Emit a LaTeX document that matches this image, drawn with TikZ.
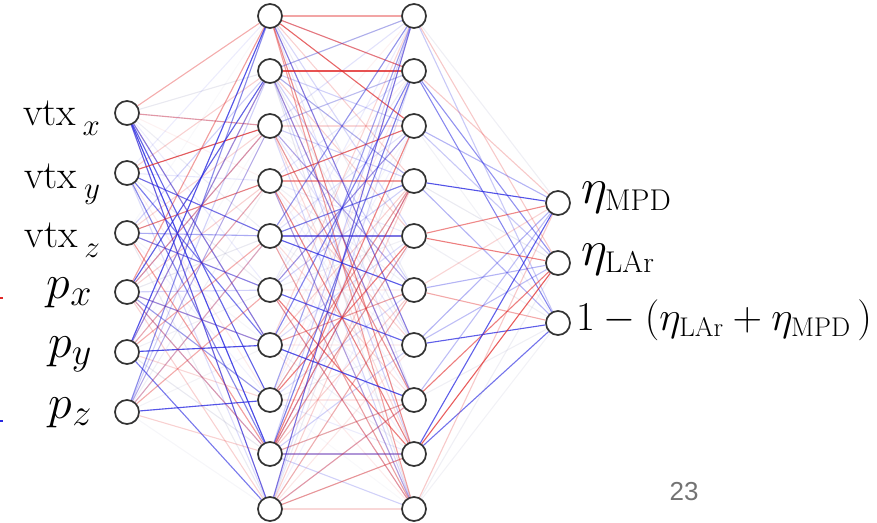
\RequirePackage{fix-cm}
\documentclass[tikz,border=0pt]{standalone}
\usepackage{amsmath}
\usepackage{fontspec}
\newfontfamily\pagefont{Liberation Sans}
\usepackage{tikz}
\usetikzlibrary{positioning}
\DeclareMathSizes{48}{48}{38}{30}
\DeclareMathSizes{50}{50}{30}{24}
\DeclareMathSizes{41}{41}{27}{20}
\DeclareMathSizes{31}{31}{24}{18}
\definecolor{wred}{RGB}{225,40,40}
\definecolor{wblue}{RGB}{40,40,225}
\definecolor{wgray}{RGB}{150,150,185}
\definecolor{ringgray}{RGB}{50,50,50}
\definecolor{pagegray}{RGB}{115,115,115}
\newcommand{\vtxlbl}[1]{vtx\,\raisebox{-10pt}{\fontsize{31}{33}\selectfont$#1$}}
\tikzset{
  neuron/.style={circle,draw=ringgray,fill=white,line width=1.7pt,minimum size=24pt,inner sep=0pt},
  wline/.style={line width=1.1pt},
  vtxlabel/.style={inner sep=0pt,font=\fontsize{40}{44}\selectfont},
  plabel/.style={inner sep=0pt,font=\fontsize{48}{52}\selectfont},
  etalabel/.style={inner sep=0pt,font=\fontsize{50}{54}\selectfont},
  sumlabel/.style={inner sep=0pt,font=\fontsize{41}{44}\selectfont},
  pagenum/.style={inner sep=0pt,font=\pagefont\fontsize{26}{30}\selectfont,text=pagegray}
}

\begin{document}
\begin{tikzpicture}[x=1pt,y=-1pt]
  \useasboundingbox (0,0) rectangle (877,522);
  \foreach \k/\y in {1/113,2/173,3/233,4/292,5/352,6/412}
    \node[neuron] (i\k) at (127,\y) {};
  \foreach \k/\y in {1/16,2/71,3/126,4/181,5/236,6/290,7/345,8/400,9/454,10/509} {
    \node[neuron] (a\k) at (270,\y) {};
    \node[neuron] (b\k) at (414,\y) {};
  }
  \foreach \k/\y in {1/203,2/263,3/323}
    \node[neuron] (o\k) at (558,\y) {};

  % faint weights
  \foreach \s in {1,...,6}
    \foreach \t in {1,...,10} {
      \pgfmathtruncatemacro\w{mod(5*\s+3*\t+\s*\t,7)}
      \pgfmathtruncatemacro\c{mod(\s+2*\t,3)}
      \pgfmathsetmacro\op{0.06+0.025*\w}
      \ifcase\c \def\col{wred}\or \def\col{wblue}\else \def\col{wgray}\fi
      \draw[wline,\col,opacity=\op] (i\s) -- (a\t);
    }
  \foreach \s in {1,...,10}
    \foreach \t in {1,...,10} {
      \pgfmathtruncatemacro\w{mod(3*\s+5*\t+\s*\t,7)}
      \pgfmathtruncatemacro\c{mod(2*\s+\t,3)}
      \pgfmathsetmacro\op{0.06+0.025*\w}
      \ifcase\c \def\col{wred}\or \def\col{wblue}\else \def\col{wgray}\fi
      \draw[wline,\col,opacity=\op] (a\s) -- (b\t);
    }

  % strong weights
  \foreach \s/\t/\col/\op in {
    i1/a1/wred/.30, i1/a3/wred/.40, i1/a7/wblue/.55, i1/a8/wblue/.70, i1/a9/wblue/.80, i1/a10/wblue/.70,
    i2/a3/wred/.75, i2/a5/wblue/.65, i2/a7/wblue/.55, i2/a9/wblue/.50,
    i3/a4/wred/.55, i3/a5/wblue/.30, i3/a6/wblue/.55, i3/a9/wred/.30,
    i4/a1/wred/.30, i4/a2/wblue/.70, i4/a3/wred/.40, i4/a7/wblue/.45, i4/a8/wblue/.40, i4/a9/wred/.35,
    i5/a1/wblue/.75, i5/a2/wblue/.45, i5/a4/wred/.35, i5/a5/wred/.30, i5/a7/wblue/.80, i5/a10/wblue/.60,
    i6/a1/wblue/.50, i6/a3/wblue/.35, i6/a5/wred/.30, i6/a6/wred/.35, i6/a8/wblue/.75,
    a1/b1/wred/.35, a1/b2/wred/.60, a1/b3/wred/.70, a1/b7/wblue/.55, a1/b9/wred/.50, a1/b10/wred/.40,
    a2/b1/wblue/.30, a2/b2/wred/.75, a2/b4/wblue/.30, a2/b8/wblue/.45,
    a3/b2/wblue/.25, a3/b6/wblue/.35, a3/b8/wred/.45,
    a4/b3/wred/.65, a4/b4/wred/.30, a4/b9/wred/.55, a4/b10/wblue/.35,
    a5/b1/wblue/.45, a5/b4/wblue/.55, a5/b5/wblue/.60, a5/b6/wblue/.70, a5/b10/wred/.40,
    a6/b3/wblue/.45, a6/b7/wblue/.65, a6/b9/wred/.50, a6/b10/wred/.45,
    a7/b2/wblue/.50, a7/b6/wred/.40, a7/b8/wblue/.75,
    a8/b1/wblue/.40, a8/b4/wred/.40, a8/b5/wred/.50,
    a9/b2/wblue/.55, a9/b3/wred/.45, a9/b4/wred/.55, a9/b5/wred/.40, a9/b8/wred/.35, a9/b9/wblue/.35,
    a10/b1/wblue/.60, a10/b6/wred/.35, a10/b8/wred/.40, a10/b9/wred/.45,
    b1/o1/wgray/.15, b1/o2/wred/.25, b1/o3/wblue/.25,
    b2/o1/wred/.25, b2/o2/wblue/.50, b2/o3/wblue/.55,
    b3/o1/wblue/.35, b3/o2/wblue/.25, b3/o3/wgray/.12,
    b4/o1/wblue/.80, b4/o2/wgray/.20, b4/o3/wblue/.35,
    b5/o1/wred/.55, b5/o2/wred/.60, b5/o3/wgray/.15,
    b6/o1/wred/.20, b6/o2/wblue/.35, b6/o3/wred/.40,
    b7/o1/wblue/.35, b7/o2/wblue/.30, b7/o3/wblue/.75,
    b8/o1/wblue/.30, b8/o2/wred/.60, b8/o3/wgray/.15,
    b9/o1/wblue/.75, b9/o2/wred/.75, b9/o3/wblue/.65,
    b10/o1/wred/.25, b10/o2/wgray/.15, b10/o3/wgray/.12}
    \draw[wline,\col,opacity=\op] (\s) -- (\t);

  \foreach \k/\dy/\sub in {1/-12/x,2/-15/y,3/-14/z}
    \node[vtxlabel,left=14pt of i\k,anchor=base east,yshift=\dy pt] (l\k) {\vtxlbl{\sub}};
  \foreach \k/\dy/\sub in {4/-6/x,5/-5/y,6/-6/z}
    \node[plabel,left=22pt of i\k,anchor=base east,yshift=\dy pt] (l\k) {$p_{\sub}$};
  \node[etalabel,right=10pt of o1,anchor=base west] (r1) {$\eta_{\mathrm{MPD}}$};
  \node[etalabel,right=10pt of o2,anchor=base west,yshift=-2pt] (r2) {$\eta_{\mathrm{LAr}}$};
  \node[sumlabel,right=5pt of o3,anchor=base west,yshift=-7pt] (r3)
    {$1-(\eta_{\mathrm{LAr}}+\eta_{\mathrm{MPD}}\,)$};

  \node[pagenum,anchor=base] (pg) at (684,500) {23};
  \draw[wred,line width=1.2pt] (0,298) -- (3,298);
  \draw[wblue,line width=1.2pt] (0,421) -- (3,421);
\end{tikzpicture}
\end{document}
